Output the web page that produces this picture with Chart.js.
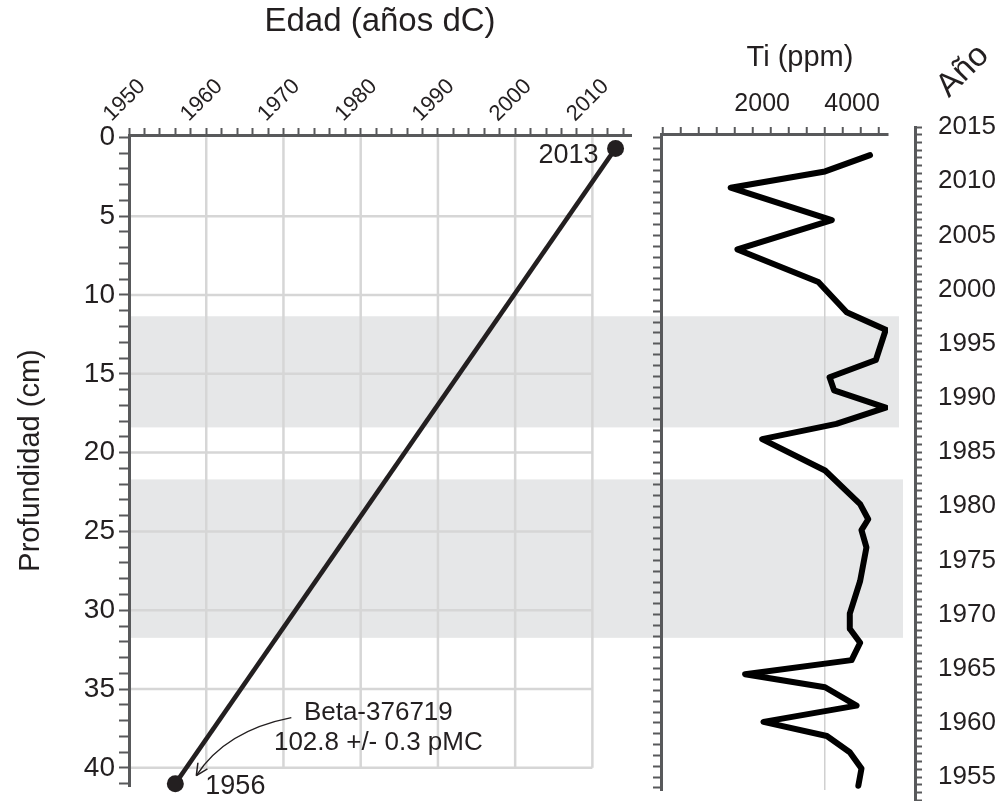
<!DOCTYPE html>
<html><head><meta charset="utf-8">
<script src="https://cdn.jsdelivr.net/npm/chart.js@4.4.1/dist/chart.umd.min.js"></script>
<style>
html,body{margin:0;padding:0;background:#fff;}
#wrap{position:relative;width:1000px;height:801px;overflow:hidden;background:#fff;}
canvas{position:absolute;top:0;}
#cAge{left:0}
#cTi{left:645px}
#cYear{left:895px}
</style></head><body>
<div id="wrap">
<canvas id="cAge" width="645" height="830"></canvas>
<canvas id="cTi" width="260" height="801"></canvas>
<canvas id="cYear" width="105" height="841"></canvas>
</div>
<script>
// ---------- data ----------
const ageYears = [2013, 1956];
const ageDepths = [0.7, 41];
const ageLabels = ['2013', '1956'];
const sampleLabel = ['Beta-376719', '102.8 +/- 0.3 pMC'];
const ageTickLabels = [1950, 1960, 1970, 1980, 1990, 2000, 2010];
const depthTickLabels = [0, 5, 10, 15, 20, 25, 30, 35, 40];
const gridYears = [1960, 1970, 1980, 1990, 2000, 2010];
const gridDepths = [5, 10, 15, 20, 25, 30, 35, 40];
const tiYears = [2012.4, 2010.9, 2009.4, 2006.4, 2003.7, 2000.7, 1997.9, 1996.3, 1993.5, 1991.9,
  1990.7, 1989.1, 1987.6, 1986.2, 1983.3, 1980.2, 1978.8, 1977.8, 1976.2, 1973.1,
  1970.1, 1968.7, 1967.4, 1965.8, 1964.5, 1963.3, 1961.6, 1960.1, 1958.8, 1957.3, 1955.8, 1954.2];
const tiValues = [5000, 4000, 1900, 4150, 2050, 3850, 4480, 5350, 5130, 4100,
  4200, 5350, 4250, 2600, 4000, 4780, 4960, 4810, 4920, 4780,
  4550, 4550, 4780, 4590, 2220, 4000, 4700, 2630, 4040, 4550, 4810, 4740];
const tiTickLabels = [2000, 4000];
const yearTickLabels = [2015, 2010, 2005, 2000, 1995, 1990, 1985, 1980, 1975, 1970, 1965, 1960, 1955];
const bandTopDepths = [11.35, 21.7];
const bandBottomDepths = [18.4, 31.75];

// ---------- styles ----------
const FONT = '"Liberation Sans", Arial, Helvetica, sans-serif';
const INK = '#231f20';
const AXIS = '#58595b';
const GRID = '#d6d6d6';
const BAND = '#e6e7e8';
Chart.defaults.font.family = FONT;
Chart.defaults.color = INK;

const common = {
  responsive: false, animation: false, devicePixelRatio: 1, events: [],
  plugins: { legend: { display: false }, tooltip: { enabled: false } }
};

function line(ctx, x0, y0, x1, y1) { ctx.beginPath(); ctx.moveTo(x0, y0); ctx.lineTo(x1, y1); ctx.stroke(); }

// ---------- left panel: age-depth ----------
const ageDecor = {
  id: 'ageDecor',
  beforeDraw(chart) {
    const { ctx, chartArea, scales: { x, y } } = chart;
    ctx.save();
    ctx.fillStyle = BAND;
    bandTopDepths.forEach((t, i) => {
      const y0 = y.getPixelForValue(t), y1 = y.getPixelForValue(bandBottomDepths[i]);
      ctx.fillRect(chartArea.left, y0, chart.width - chartArea.left, y1 - y0);
    });
    ctx.strokeStyle = GRID; ctx.lineWidth = 2.5;
    gridYears.forEach(v => {
      const px = x.getPixelForValue(v);
      line(ctx, px, y.getPixelForValue(0), px, y.getPixelForValue(40));
    });
    gridDepths.forEach(d => {
      const py = y.getPixelForValue(d);
      line(ctx, x.getPixelForValue(1950), py, x.getPixelForValue(2010), py);
    });
    ctx.restore();
  },
  afterDatasetsDraw(chart) {
    const { ctx, scales: { x, y } } = chart;
    const p1 = { x: x.getPixelForValue(ageYears[0]), y: y.getPixelForValue(ageDepths[0]) };
    const p2 = { x: x.getPixelForValue(ageYears[1]), y: y.getPixelForValue(ageDepths[1]) };
    ctx.save();
    ctx.fillStyle = INK;
    ctx.font = '27px ' + FONT;
    ctx.textBaseline = 'middle';
    ctx.textAlign = 'right';
    ctx.fillText(ageLabels[0], p1.x - 17, p1.y + 7);
    ctx.textAlign = 'left';
    ctx.fillText(ageLabels[1], p2.x + 30, p2.y + 3);
    ctx.font = '26px ' + FONT;
    ctx.textAlign = 'center';
    ctx.fillText(sampleLabel[0], p2.x + 203, p2.y - 71);
    ctx.fillText(sampleLabel[1], p2.x + 203, p2.y - 41);
    // curved arrow
    const s = { x: p2.x + 116, y: p2.y - 66 };
    const c = { x: p2.x + 50, y: p2.y - 53 };
    const e = { x: p2.x + 21, y: p2.y - 8 };
    ctx.strokeStyle = INK; ctx.lineWidth = 1.5;
    ctx.beginPath(); ctx.moveTo(s.x, s.y); ctx.quadraticCurveTo(c.x, c.y, e.x, e.y); ctx.stroke();
    const th = Math.atan2(e.y - c.y, e.x - c.x);
    [0.45, -0.45].forEach(a => {
      line(ctx, e.x, e.y, e.x - 13 * Math.cos(th + a), e.y - 13 * Math.sin(th + a));
    });
    ctx.restore();
  }
};

const ageChart = new Chart(document.getElementById('cAge'), {
  type: 'line',
  data: { datasets: [{
    data: ageYears.map((yr, i) => ({ x: yr, y: ageDepths[i] })),
    borderColor: INK, backgroundColor: INK, borderWidth: 4.5,
    pointRadius: 8.5, pointHoverRadius: 8.5, pointBackgroundColor: INK, pointBorderWidth: 0,
    clip: false, tension: 0, fill: false
  }] },
  options: Object.assign({}, common, {
    layout: { padding: { left: 0, top: 0, right: 14, bottom: 44 } },
    scales: {
      x: {
        type: 'linear', position: 'top', min: 1950, max: 2015,
        afterBuildTicks: s => { const t = []; for (let v = 1950; v <= 2014; v += 2) t.push({ value: v }); s.ticks = t; },
        afterFit: s => { s.height = 135; },
        ticks: { autoSkip: false, minRotation: 45, maxRotation: 45, padding: 1, labelOffset: -3,
          font: { size: 22 }, color: INK,
          callback: v => ageTickLabels.includes(v) ? String(v) : '' },
        grid: { drawOnChartArea: false, tickLength: 7, tickWidth: 2, tickColor: AXIS },
        border: { display: true, color: AXIS, width: 3 },
        title: { display: true, text: 'Edad (años dC)', font: { size: 33 }, color: INK, padding: { top: 2, bottom: 0 } }
      },
      y: {
        type: 'linear', position: 'left', reverse: true, min: -0.15, max: 41.15,
        afterBuildTicks: s => { const t = []; for (let v = 0; v <= 41; v++) t.push({ value: v }); s.ticks = t; },
        afterFit: s => { s.width = 129; },
        ticks: { autoSkip: false, padding: 4, font: { size: 28 }, color: INK,
          callback: v => depthTickLabels.includes(v) ? String(v) : '' },
        grid: { drawOnChartArea: false, tickLength: 10, tickWidth: 2, tickColor: AXIS },
        border: { display: true, color: AXIS, width: 3 },
        title: { display: true, text: 'Profundidad (cm)', font: { size: 29 }, color: INK, padding: { top: 14, bottom: 0 } }
      }
    }
  }),
  plugins: [ageDecor]
});

// ---------- middle panel: Ti ----------
const tiDecor = {
  id: 'tiDecor',
  beforeDraw(chart) {
    const { ctx, chartArea } = chart;
    const dy = ageChart.scales.y;
    const ext = [11, 15];
    ctx.save();
    ctx.fillStyle = BAND;
    bandTopDepths.forEach((t, i) => {
      const y0 = dy.getPixelForValue(t), y1 = dy.getPixelForValue(bandBottomDepths[i]);
      ctx.fillRect(0, y0, chartArea.right + ext[i], y1 - y0);
    });
    ctx.restore();
  },
  afterDraw(chart) {
    const { ctx } = chart;
    ctx.save();
    ctx.fillStyle = INK;
    ctx.font = '29px ' + FONT;
    ctx.textAlign = 'center'; ctx.textBaseline = 'middle';
    ctx.fillText('Ti (ppm)', 155, 58);
    ctx.restore();
  }
};

new Chart(document.getElementById('cTi'), {
  type: 'line',
  data: { datasets: [{
    data: tiYears.map((yr, i) => ({ x: tiValues[i], y: yr })),
    borderColor: '#000', borderWidth: 6, pointRadius: 0, tension: 0,
    borderJoinStyle: 'round', borderCapStyle: 'round', fill: false
  }] },
  options: Object.assign({}, common, {
    layout: { padding: { left: 0, top: 0, right: 17, bottom: 11 } },
    scales: {
      x: {
        type: 'linear', position: 'top', min: 350, max: 5400,
        afterBuildTicks: s => { const t = []; for (let v = 400; v <= 5200; v += 400) t.push({ value: v }); s.ticks = t; },
        afterFit: s => { s.height = 134; },
        ticks: { autoSkip: false, minRotation: 0, maxRotation: 0, padding: 8, labelOffset: 27,
          font: { size: 25 }, color: INK,
          callback: v => tiTickLabels.includes(v) ? String(v) : '' },
        grid: { drawOnChartArea: true, lineWidth: 1.5, tickLength: 7, tickWidth: 2, tickColor: AXIS,
          color: c => (c.tick && c.tick.value === 4000) ? '#d0d0d0' : 'rgba(0,0,0,0)' },
        border: { display: true, color: AXIS, width: 3 }
      },
      y: {
        type: 'linear', position: 'left', min: 1953.815, max: 2014.354,
        afterBuildTicks: s => { const t = []; for (let v = 1954; v <= 2014; v++) t.push({ value: v }); s.ticks = t; },
        afterFit: s => { s.width = 16; },
        ticks: { display: false },
        grid: { drawOnChartArea: false, tickLength: 8, tickWidth: 2, tickColor: AXIS },
        border: { display: true, color: AXIS, width: 3 }
      }
    }
  }),
  plugins: [tiDecor]
});

// ---------- right axis: year ----------
const yearDecor = {
  id: 'yearDecor',
  afterDraw(chart) {
    const { ctx } = chart;
    ctx.save();
    ctx.fillStyle = INK;
    ctx.font = '33px ' + FONT;
    ctx.textAlign = 'center'; ctx.textBaseline = 'middle';
    ctx.translate(68, 71);
    ctx.rotate(-Math.PI / 4);
    ctx.fillText('Año', 0, 0);
    ctx.restore();
  }
};

new Chart(document.getElementById('cYear'), {
  type: 'line',
  data: { datasets: [] },
  options: Object.assign({}, common, {
    layout: { padding: { left: 0, top: 127, right: 0, bottom: 40 } },
    scales: {
      x: { type: 'linear', display: false, min: 0, max: 1 },
      y: {
        type: 'linear', position: 'right', min: 1952.8, max: 2015,
        afterBuildTicks: s => {
          const t = [];
          for (let k = 0; ; k++) { const v = 2015 - k * 5 / 7; if (v < 1952.8) break; t.push({ value: v }); }
          s.ticks = t;
        },
        afterFit: s => { s.width = 85; },
        ticks: { autoSkip: false, padding: 16, font: { size: 26 }, color: INK,
          callback: v => { const r = Math.round(v); return (Math.abs(v - r) < 1e-6 && yearTickLabels.includes(r)) ? String(r) : ''; } },
        grid: { drawOnChartArea: false, tickLength: 7, tickWidth: 2, tickColor: AXIS },
        border: { display: true, color: AXIS, width: 3 }
      }
    }
  }),
  plugins: [yearDecor]
});
</script>
</body></html>
